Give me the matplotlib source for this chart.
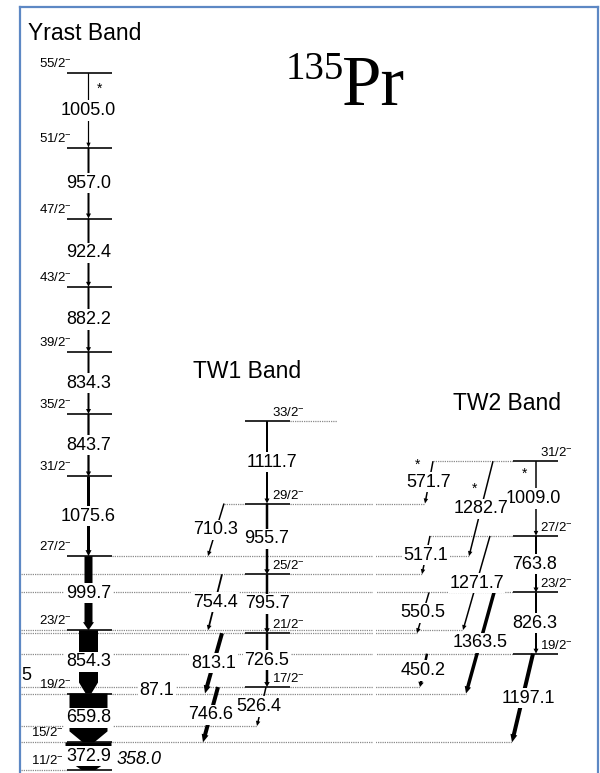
import numpy as np
import matplotlib
matplotlib.use('Agg')
import matplotlib.pyplot as plt
from matplotlib.patches import Polygon
from matplotlib.lines import Line2D

plt.rcParams['font.family'] = ['Liberation Sans', 'DejaVu Sans']
plt.rcParams['mathtext.fontset'] = 'custom'
plt.rcParams['mathtext.rm'] = 'Liberation Sans'
plt.rcParams['mathtext.it'] = 'Liberation Sans:italic'

# ---- level scheme data (keV, relative to the 11/2- band head) ----
yrast_spins = ['11/2', '15/2', '19/2', '23/2', '27/2', '31/2',
               '35/2', '39/2', '43/2', '47/2', '51/2', '55/2']
yrast_gammas = [372.9, 659.8, 854.3, 999.7, 1075.6, 843.7,
                834.3, 882.2, 922.4, 957.0, 1005.0]
yrast_int = [46, 38, 19, 8, 3, 2.2, 2, 2, 2, 2, 1.2]
yrast_tent = [False] * 10 + [True]

tw1_spins = ['17/2', '21/2', '25/2', '29/2', '33/2']
tw1_gammas = [726.5, 795.7, 955.7, 1111.7]
tw1_int = [2.5, 2.5, 2.5, 2.0]

tw2_spins = ['19/2', '23/2', '27/2', '31/2']
tw2_gammas = [826.3, 763.8, 1009.0]
tw2_int = [2.0, 2.0, 1.5]
tw2_tent = [False, False, True]

# out-of-band level fed by the 526.4 line
side_level = 593.4

# interband transitions
link_gammas = [87.1, 746.6, 526.4, 813.1, 754.4, 710.3,
               1197.1, 450.2, 1363.5, 550.5, 1271.7, 517.1, 1282.7, 571.7]
link_from = [('tw1', '17/2'), ('tw1', '17/2'), ('tw1', '17/2'), ('tw1', '21/2'),
             ('tw1', '25/2'), ('tw1', '29/2'), ('tw2', '19/2'), ('tw2', '19/2'),
             ('tw2', '23/2'), ('tw2', '23/2'), ('tw2', '27/2'), ('tw2', '27/2'),
             ('tw2', '31/2'), ('tw2', '31/2')]
link_to = [('yrast', '19/2'), ('yrast', '15/2'), ('side', ''), ('yrast', '19/2'),
           ('yrast', '23/2'), ('yrast', '27/2'), ('yrast', '15/2'), ('tw1', '17/2'),
           ('yrast', '19/2'), ('tw1', '21/2'), ('yrast', '23/2'), ('tw1', '25/2'),
           ('yrast', '27/2'), ('tw1', '29/2')]
link_int = [0, 4, 1.5, 4, 1.8, 1.5, 4, 2.5, 3.5, 1.5, 1.5, 1.5, 1.5, 1.5]
link_tent = [False] * 12 + [True, True]

# ---- drawing layout (pixels) ----
W_PX, H_PX = 600, 773
KPX = 13.5                      # keV per pixel
BAND_X = {'yrast': (67, 112, 88.5), 'tw1': (245, 290, 267),
          'tw2': (513, 558, 536), 'side': (257, 257, 257)}
LINK_X = {87.1: (157, 157), 746.6: (218, 203), 526.4: (266, 257),
          813.1: (222, 205), 754.4: (222, 208), 710.3: (224, 208),
          1197.1: (533, 512), 450.2: (427, 420), 1363.5: (494, 466),
          550.5: (429, 417), 1271.7: (490, 463), 517.1: (430, 422),
          1282.7: (493, 469), 571.7: (433, 425)}
LABEL_DX = {1197.1: 6, 526.4: -3, 1111.7: 5, 1009.0: -3, 763.8: -1, 826.3: -1}
# star marks for tentative lines: (depth below the upper level, side offset)
STAR_AT = {1005.0: (16, 11), 1009.0: (13, -11), 1282.7: (28, -11), 571.7: (4, -15)}
OPEN_LEFT = [('yrast', '11/2'), ('yrast', '15/2'), ('yrast', '19/2'), ('yrast', '23/2'),
             ('tw1', '17/2'), ('tw1', '21/2'), ('tw1', '25/2'),
             ('tw2', '19/2'), ('tw2', '23/2'), ('side', '')]
EXTRA_RIGHT = {('tw1', '33/2'): 337}
FRAME_L = 20

# ---- level energies ----
levels = {}
e = 0.0
for s, g in zip(yrast_spins, [0] + yrast_gammas):
    e += g
    levels[('yrast', s)] = e
e = levels[('yrast', '19/2')] + 87.1
for s, g in zip(tw1_spins, [0] + tw1_gammas):
    e += g
    levels[('tw1', s)] = e
e = levels[('yrast', '15/2')] + 1197.1
for s, g in zip(tw2_spins, [0] + tw2_gammas):
    e += g
    levels[('tw2', s)] = e
levels[('side', '')] = side_level

fig = plt.figure(figsize=(W_PX / 100, H_PX / 100), dpi=100)
ax = fig.add_axes([0, 0, 1, 1])
ax.set_xlim(0, W_PX)
ax.set_ylim(-3 * KPX, 770 * KPX)
ax.axis('off')

LBL = dict(fontsize=13, ha='center', va='center', zorder=6,
           bbox=dict(fc='white', ec='none', pad=1.2))


def gamma(x0, e0, x1, e1, w):
    y0, y1 = e0 / KPX, e1 / KPX
    dx, dy = x1 - x0, y1 - y0
    L = np.hypot(dx, dy)
    ux, uy = dx / L, dy / L
    px, py = -uy, ux
    if w >= 10:
        hl, hw, tip = 11, w, 0.3 * w
    else:
        hl, hw, tip = min(8, max(5, 2 * w)), w + 3, 0
    bx, by = x1 - ux * hl, y1 - uy * hl
    pts = [(x0 + px * w / 2, y0 + py * w / 2), (bx + px * w / 2, by + py * w / 2),
           (bx + px * hw / 2, by + py * hw / 2), (x1 + px * tip / 2, y1 + py * tip / 2),
           (x1 - px * tip / 2, y1 - py * tip / 2), (bx - px * hw / 2, by - py * hw / 2),
           (bx - px * w / 2, by - py * w / 2), (x0 - px * w / 2, y0 - py * w / 2)]
    ax.add_patch(Polygon([(x, y * KPX) for x, y in pts], closed=True,
                         fc='black', ec='none', zorder=3))


def star(g, x0, e0, x1):
    # asterisk beside a tentative line, at a given depth below its start
    d, off = STAR_AT[g]
    frac = d * KPX / g
    ax.text(x0 + (x1 - x0) * frac + off, e0 - d * KPX, '*', fontsize=10,
            ha='center', va='center', zorder=6)


# dotted extents of each level
ext = {k: [BAND_X[k[0]][0], BAND_X[k[0]][1]] for k in levels}
for g, f, t in zip(link_gammas, link_from, link_to):
    xs, xe = LINK_X[g]
    ext[f][0] = min(ext[f][0], xs); ext[f][1] = max(ext[f][1], xs)
    ext[t][0] = min(ext[t][0], xe); ext[t][1] = max(ext[t][1], xe)
for k in OPEN_LEFT:
    ext[k][0] = FRAME_L + 1
for k, x in EXTRA_RIGHT.items():
    ext[k][1] = x

dot = dict(color='#8a8a8a', lw=0.9, ls=(0, (1, 0.8)), zorder=1)
for k, en in levels.items():
    l, r, _ = BAND_X[k[0]]
    if ext[k][0] < l:
        ax.plot([ext[k][0], l], [en, en], **dot)
    if ext[k][1] > r:
        ax.plot([r, ext[k][1]], [en, en], **dot)
    if k[0] != 'side':
        ax.plot([l, r], [en, en], color='#1a1a1a', lw=1.3, zorder=2,
                solid_capstyle='butt')

# thin white gap running through the dotted lines
ax.plot([373.5, 373.5], [-3 * KPX, levels[('tw1', '33/2')] - 5 * KPX],
        color='white', lw=2.2, zorder=1.5)

# in-band cascades
bands = [('yrast', yrast_spins, yrast_gammas, yrast_int, yrast_tent),
         ('tw1', tw1_spins, tw1_gammas, tw1_int, [False] * 4),
         ('tw2', tw2_spins, tw2_gammas, tw2_int, tw2_tent)]
for band, spins, gams, ints, tent in bands:
    xc = BAND_X[band][2]
    for i, g in enumerate(gams):
        eu = levels[(band, spins[i + 1])]
        gamma(xc, eu, xc, eu - g, ints[i])
        ax.text(xc + LABEL_DX.get(g, 0), eu - g / 2, f'{g:.1f}', **LBL)
        if tent[i]:
            star(g, xc, eu, xc)

# interband links
for g, f, t, w, tt in zip(link_gammas, link_from, link_to, link_int, link_tent):
    xs, xe = LINK_X[g]
    eu = levels[f]
    if w > 0:
        gamma(xs, eu, xe, eu - g, w)
    ax.text((xs + xe) / 2 + LABEL_DX.get(g, 0), eu - g / 2, f'{g:.1f}', **LBL)
    if tt:
        star(g, xs, eu, xe)

# spin labels
for s in yrast_spins:
    xr = 64 if s in ('11/2', '15/2') else 72
    ax.text(xr, levels[('yrast', s)] + 3 * KPX, r'$\mathregular{' + s + '^{-}}$',
            fontsize=9.5, ha='right', va='bottom', zorder=6)
for band, spins, x0 in [('tw1', tw1_spins, 272), ('tw2', tw2_spins, 540)]:
    for s in spins:
        ax.text(x0, levels[(band, s)] + 2 * KPX, r'$\mathregular{' + s + '^{-}}$',
                fontsize=9.5, ha='left', va='bottom', zorder=6)

# transition leaving the band head, and a clipped label at the left edge
ax.text(117, levels[('yrast', '11/2')] + 10 * KPX, '358.0', fontsize=13,
        style='italic', ha='left', va='center', zorder=6)
ax.text(21, levels[('yrast', '19/2')] + 18 * KPX, '5', fontsize=13,
        ha='left', va='center', zorder=6)

# band titles
ax.text(28, 737 * KPX, 'Yrast Band', fontsize=16.5, ha='left', va='center')
ax.text(193, 399 * KPX, 'TW1 Band', fontsize=16.5, ha='left', va='center')
ax.text(453, 367 * KPX, 'TW2 Band', fontsize=16.5, ha='left', va='center')

# nucleus
ax.text(286, 691 * KPX, '135', fontsize=28, family='Liberation Serif',
        ha='left', va='baseline')
ax.text(342, 665 * KPX, 'Pr', fontsize=51, family='Liberation Serif',
        ha='left', va='baseline')

# frame
fc = '#5d88c4'
for xs, ys in [([FRAME_L, FRAME_L], [0, H_PX - 7]), ([FRAME_L, 598], [H_PX - 7, H_PX - 7]),
               ([598, 598], [H_PX - 7, 0])]:
    fig.add_artist(Line2D([x / W_PX for x in xs], [y / H_PX for y in ys],
                          transform=fig.transFigure, color=fc, lw=1.6))

fig.savefig('out.png', dpi=100, facecolor='white')
